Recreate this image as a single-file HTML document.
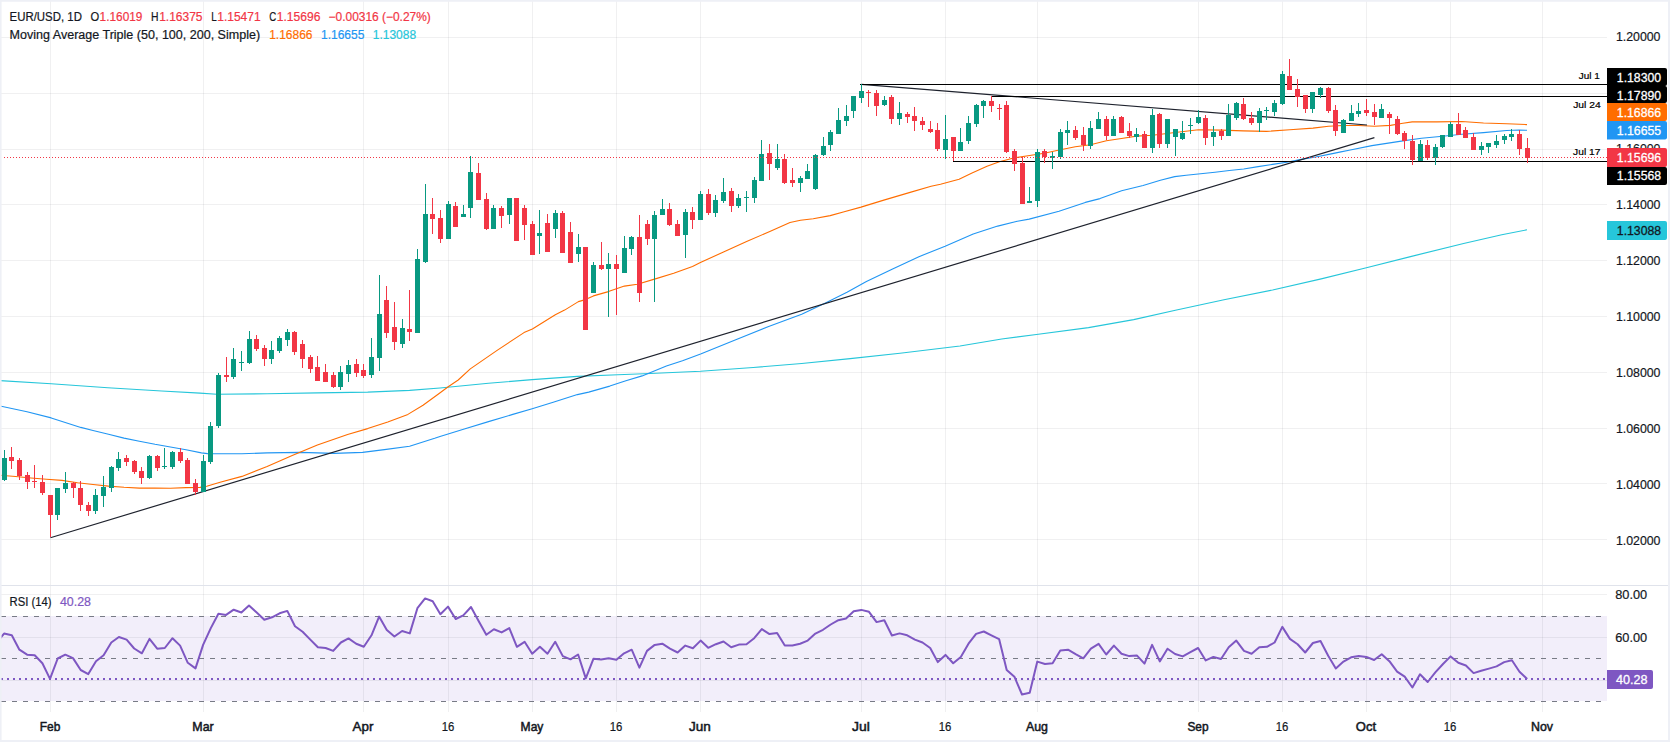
<!DOCTYPE html>
<html lang="en"><head><meta charset="utf-8"><title>EUR/USD 1D chart</title>
<style>html,body{margin:0;padding:0;background:#fff;}body{width:1670px;height:742px;overflow:hidden;}svg{display:block;}</style>
</head><body>
<svg width="1670" height="742" viewBox="0 0 1670 742" font-family="'Liberation Sans', sans-serif">
<rect x="0" y="0" width="1670" height="742" fill="#ffffff"/>
<rect x="0" y="616" width="1607" height="85" fill="#f2eefa"/>
<g stroke="#2a2e39" stroke-opacity="0.07" stroke-width="1" shape-rendering="crispEdges">
<line x1="50.5" y1="0" x2="50.5" y2="712"/>
<line x1="203.5" y1="0" x2="203.5" y2="712"/>
<line x1="363.5" y1="0" x2="363.5" y2="712"/>
<line x1="448.5" y1="0" x2="448.5" y2="712"/>
<line x1="532.5" y1="0" x2="532.5" y2="712"/>
<line x1="616.5" y1="0" x2="616.5" y2="712"/>
<line x1="700.5" y1="0" x2="700.5" y2="712"/>
<line x1="861.5" y1="0" x2="861.5" y2="712"/>
<line x1="945.5" y1="0" x2="945.5" y2="712"/>
<line x1="1037.5" y1="0" x2="1037.5" y2="712"/>
<line x1="1198.5" y1="0" x2="1198.5" y2="712"/>
<line x1="1282.5" y1="0" x2="1282.5" y2="712"/>
<line x1="1366.5" y1="0" x2="1366.5" y2="712"/>
<line x1="1450.5" y1="0" x2="1450.5" y2="712"/>
<line x1="1542.5" y1="0" x2="1542.5" y2="712"/>
<line x1="0" y1="37.5" x2="1607" y2="37.5"/>
<line x1="0" y1="93.5" x2="1607" y2="93.5"/>
<line x1="0" y1="149.5" x2="1607" y2="149.5"/>
<line x1="0" y1="204.5" x2="1607" y2="204.5"/>
<line x1="0" y1="260.5" x2="1607" y2="260.5"/>
<line x1="0" y1="316.5" x2="1607" y2="316.5"/>
<line x1="0" y1="372.5" x2="1607" y2="372.5"/>
<line x1="0" y1="428.5" x2="1607" y2="428.5"/>
<line x1="0" y1="483.5" x2="1607" y2="483.5"/>
<line x1="0" y1="539.5" x2="1607" y2="539.5"/>
<line x1="0" y1="594.5" x2="1607" y2="594.5"/>
<line x1="0" y1="637.5" x2="1607" y2="637.5"/>
<line x1="0" y1="680.5" x2="1607" y2="680.5"/>
</g>
<line x1="0" y1="585.5" x2="1670" y2="585.5" stroke="#e0e3eb" stroke-width="1" shape-rendering="crispEdges"/>
<g stroke="#787b86" stroke-width="1" stroke-dasharray="5 6" shape-rendering="crispEdges">
<line x1="1" y1="616.5" x2="1607" y2="616.5"/>
<line x1="1" y1="658.5" x2="1607" y2="658.5"/>
<line x1="1" y1="701.5" x2="1607" y2="701.5"/>
</g>
<polyline points="0.0,380.6 51.2,383.7 107.8,387.8 161.7,391.0 200.0,393.1 216.8,394.3 267.1,393.7 317.4,392.9 367.7,392.1 409.6,390.4 440.0,388.0 488.5,383.3 532.2,379.6 577.4,376.4 617.9,374.8 650.2,373.5 700.6,371.2 753.2,367.5 801.7,363.5 850.2,358.6 900.0,353.3 960.0,346.0 1001.7,339.0 1036.4,334.5 1088.5,327.6 1133.7,319.6 1175.4,310.2 1224.0,299.8 1272.6,290.0 1321.2,278.9 1366.4,267.8 1411.5,256.4 1463.6,243.5 1501.8,234.8 1527.0,229.8" fill="none" stroke="#26c6da" stroke-width="1.1" stroke-linejoin="round" />
<polyline points="0.0,406.0 27.0,411.7 51.2,417.9 80.8,427.4 93.0,430.5 108.5,434.3 124.0,438.1 139.4,441.2 155.0,444.3 170.4,447.0 186.0,449.8 201.4,452.9 207.6,453.6 216.8,453.8 241.9,453.8 267.1,452.9 300.6,452.4 334.1,453.4 362.6,452.4 384.4,449.6 409.6,446.2 434.7,438.3 440.0,436.5 464.3,428.9 488.5,421.6 512.8,414.4 532.2,408.7 553.2,402.2 577.4,394.6 588.7,392.1 609.8,386.1 625.9,380.7 642.1,375.9 666.4,366.0 682.5,360.7 700.6,353.9 737.0,339.2 769.3,326.3 801.7,314.2 825.9,302.8 847.0,292.3 866.4,281.5 892.6,269.0 918.9,256.7 945.1,246.2 973.2,234.0 997.7,226.1 1015.2,221.7 1029.2,219.1 1059.0,211.2 1085.3,202.4 1100.0,198.6 1121.6,190.8 1143.1,185.5 1160.4,180.2 1174.7,176.6 1186.2,175.2 1200.6,173.8 1215.0,172.3 1229.3,170.5 1243.7,169.0 1258.1,166.6 1272.5,164.4 1286.8,162.3 1301.2,159.4 1315.6,157.0 1330.0,154.1 1340.9,151.9 1350.3,150.0 1371.9,145.6 1402.9,140.9 1421.5,138.2 1442.6,136.2 1461.8,134.2 1483.5,132.6 1506.7,130.5 1519.1,130.0 1527.0,130.3" fill="none" stroke="#2196f3" stroke-width="1.1" stroke-linejoin="round" />
<polyline points="0.0,475.3 15.5,476.5 31.0,478.0 46.5,479.3 62.0,480.4 77.5,482.7 93.0,484.5 108.5,486.1 124.0,487.3 139.4,488.1 155.0,488.1 170.4,488.3 186.0,487.6 200.0,487.4 206.7,486.3 220.1,482.3 241.9,476.4 267.1,466.4 292.2,455.5 317.4,445.1 347.6,434.5 367.7,428.6 387.8,421.9 407.9,414.4 423.0,405.2 438.1,394.3 448.2,386.7 458.2,380.0 470.3,368.9 497.1,350.4 524.0,332.6 532.4,329.0 555.3,314.8 564.6,310.1 578.4,301.6 585.5,299.6 593.4,295.9 608.4,291.6 624.4,286.1 637.4,284.3 654.5,279.1 673.7,273.2 692.5,266.4 700.4,262.5 723.5,252.0 746.6,241.6 769.8,231.5 790.0,222.5 800.5,220.2 813.2,218.7 830.2,215.6 844.2,211.7 861.0,207.1 883.8,200.1 910.1,192.4 931.1,186.3 940.5,184.2 959.1,179.2 971.5,173.3 987.0,166.3 999.4,161.7 1014.6,157.8 1029.6,155.5 1044.3,153.2 1060.4,149.8 1075.3,146.7 1090.5,144.7 1106.4,140.8 1121.5,138.5 1136.5,136.1 1152.5,135.2 1165.0,133.8 1175.1,132.5 1198.4,129.8 1221.6,130.1 1243.3,130.9 1266.6,131.4 1289.8,129.8 1313.0,128.1 1328.5,126.3 1343.4,125.5 1358.4,125.5 1374.4,126.2 1390.5,125.4 1402.9,123.3 1412.2,121.9 1437.0,121.9 1461.8,121.5 1483.5,123.0 1506.7,123.8 1527.0,124.6" fill="none" stroke="#ff6d00" stroke-width="1.1" stroke-linejoin="round" />
<line x1="50.4" y1="537.7" x2="1374.4" y2="137.6" stroke="#1e222d" stroke-width="1.2"/>
<line x1="861.4" y1="84.3" x2="1367" y2="125.0" stroke="#1e222d" stroke-width="1.2"/>
<g stroke="#000" stroke-width="1" shape-rendering="crispEdges">
<line x1="860" y1="84.5" x2="1607" y2="84.5"/>
<line x1="991" y1="96.5" x2="1607" y2="96.5"/>
<line x1="952.5" y1="161.5" x2="1607" y2="161.5"/>
</g>
<g fill="#089981" shape-rendering="crispEdges"><rect x="4" y="450" width="1" height="31"/><rect x="2" y="458" width="5" height="22"/><rect x="57" y="488" width="1" height="32"/><rect x="55" y="488" width="5" height="27"/><rect x="65" y="472" width="1" height="21"/><rect x="63" y="483" width="5" height="6"/><rect x="95" y="489" width="1" height="25"/><rect x="93" y="495" width="5" height="16"/><rect x="103" y="476" width="1" height="31"/><rect x="101" y="487" width="5" height="9"/><rect x="111" y="466" width="1" height="26"/><rect x="109" y="467" width="5" height="21"/><rect x="118" y="452" width="1" height="19"/><rect x="116" y="459" width="5" height="9"/><rect x="149" y="455" width="1" height="24"/><rect x="147" y="456" width="5" height="22"/><rect x="164" y="448" width="1" height="21"/><rect x="162" y="466" width="5" height="1"/><rect x="172" y="451" width="1" height="18"/><rect x="170" y="452" width="5" height="15"/><rect x="203" y="455" width="1" height="37"/><rect x="201" y="461" width="5" height="31"/><rect x="210" y="422" width="1" height="42"/><rect x="208" y="426" width="5" height="36"/><rect x="218" y="373" width="1" height="55"/><rect x="216" y="375" width="5" height="51"/><rect x="233" y="348" width="1" height="31"/><rect x="231" y="359" width="5" height="18"/><rect x="241" y="351" width="1" height="20"/><rect x="239" y="362" width="5" height="1"/><rect x="249" y="331" width="1" height="33"/><rect x="247" y="339" width="5" height="24"/><rect x="271" y="341" width="1" height="23"/><rect x="269" y="350" width="5" height="9"/><rect x="279" y="336" width="1" height="17"/><rect x="277" y="338" width="5" height="13"/><rect x="287" y="329" width="1" height="17"/><rect x="285" y="332" width="5" height="8"/><rect x="340" y="366" width="1" height="24"/><rect x="338" y="372" width="5" height="15"/><rect x="348" y="360" width="1" height="22"/><rect x="346" y="365" width="5" height="9"/><rect x="371" y="338" width="1" height="40"/><rect x="369" y="357" width="5" height="18"/><rect x="379" y="275" width="1" height="96"/><rect x="377" y="314" width="5" height="44"/><rect x="402" y="319" width="1" height="29"/><rect x="400" y="328" width="5" height="16"/><rect x="417" y="249" width="1" height="84"/><rect x="415" y="259" width="5" height="74"/><rect x="425" y="184" width="1" height="79"/><rect x="423" y="214" width="5" height="48"/><rect x="448" y="201" width="1" height="38"/><rect x="446" y="204" width="5" height="35"/><rect x="463" y="205" width="1" height="12"/><rect x="461" y="214" width="5" height="3"/><rect x="470" y="156" width="1" height="62"/><rect x="468" y="172" width="5" height="36"/><rect x="493" y="205" width="1" height="24"/><rect x="491" y="208" width="5" height="21"/><rect x="509" y="198" width="1" height="26"/><rect x="507" y="198" width="5" height="17"/><rect x="539" y="210" width="1" height="44"/><rect x="537" y="233" width="5" height="3"/><rect x="555" y="210" width="1" height="28"/><rect x="553" y="213" width="5" height="16"/><rect x="578" y="234" width="1" height="28"/><rect x="576" y="247" width="5" height="7"/><rect x="593" y="262" width="1" height="31"/><rect x="591" y="265" width="5" height="28"/><rect x="608" y="253" width="1" height="64"/><rect x="606" y="264" width="5" height="5"/><rect x="624" y="236" width="1" height="37"/><rect x="622" y="248" width="5" height="25"/><rect x="631" y="236" width="1" height="19"/><rect x="629" y="237" width="5" height="12"/><rect x="654" y="211" width="1" height="91"/><rect x="652" y="215" width="5" height="24"/><rect x="662" y="199" width="1" height="16"/><rect x="660" y="209" width="5" height="6"/><rect x="685" y="209" width="1" height="49"/><rect x="683" y="212" width="5" height="23"/><rect x="700" y="191" width="1" height="29"/><rect x="698" y="194" width="5" height="26"/><rect x="715" y="195" width="1" height="22"/><rect x="713" y="200" width="5" height="13"/><rect x="723" y="178" width="1" height="25"/><rect x="721" y="192" width="5" height="9"/><rect x="738" y="194" width="1" height="14"/><rect x="736" y="198" width="5" height="8"/><rect x="746" y="191" width="1" height="21"/><rect x="744" y="197" width="5" height="1"/><rect x="754" y="177" width="1" height="26"/><rect x="752" y="180" width="5" height="18"/><rect x="761" y="140" width="1" height="41"/><rect x="759" y="154" width="5" height="27"/><rect x="777" y="144" width="1" height="26"/><rect x="775" y="159" width="5" height="9"/><rect x="800" y="176" width="1" height="16"/><rect x="798" y="178" width="5" height="5"/><rect x="807" y="164" width="1" height="15"/><rect x="805" y="171" width="5" height="8"/><rect x="815" y="154" width="1" height="36"/><rect x="813" y="155" width="5" height="34"/><rect x="823" y="137" width="1" height="19"/><rect x="821" y="146" width="5" height="9"/><rect x="830" y="130" width="1" height="21"/><rect x="828" y="132" width="5" height="13"/><rect x="838" y="108" width="1" height="26"/><rect x="836" y="120" width="5" height="14"/><rect x="846" y="105" width="1" height="21"/><rect x="844" y="116" width="5" height="5"/><rect x="853" y="96" width="1" height="22"/><rect x="851" y="96" width="5" height="15"/><rect x="861" y="84" width="1" height="19"/><rect x="859" y="91" width="5" height="7"/><rect x="884" y="96" width="1" height="10"/><rect x="882" y="100" width="5" height="5"/><rect x="899" y="102" width="1" height="23"/><rect x="897" y="113" width="5" height="6"/><rect x="945" y="115" width="1" height="44"/><rect x="943" y="139" width="5" height="11"/><rect x="960" y="128" width="1" height="23"/><rect x="958" y="142" width="5" height="9"/><rect x="968" y="116" width="1" height="28"/><rect x="966" y="123" width="5" height="18"/><rect x="976" y="104" width="1" height="23"/><rect x="974" y="105" width="5" height="19"/><rect x="983" y="100" width="1" height="18"/><rect x="981" y="101" width="5" height="5"/><rect x="1029" y="187" width="1" height="16"/><rect x="1027" y="201" width="5" height="2"/><rect x="1037" y="149" width="1" height="58"/><rect x="1035" y="152" width="5" height="49"/><rect x="1052" y="152" width="1" height="17"/><rect x="1050" y="156" width="5" height="2"/><rect x="1060" y="129" width="1" height="30"/><rect x="1058" y="132" width="5" height="25"/><rect x="1067" y="121" width="1" height="24"/><rect x="1065" y="130" width="5" height="3"/><rect x="1090" y="121" width="1" height="28"/><rect x="1088" y="128" width="5" height="18"/><rect x="1098" y="112" width="1" height="17"/><rect x="1096" y="119" width="5" height="10"/><rect x="1113" y="116" width="1" height="20"/><rect x="1111" y="119" width="5" height="17"/><rect x="1136" y="128" width="1" height="14"/><rect x="1134" y="134" width="5" height="3"/><rect x="1152" y="109" width="1" height="44"/><rect x="1150" y="115" width="5" height="33"/><rect x="1167" y="119" width="1" height="29"/><rect x="1165" y="119" width="5" height="25"/><rect x="1175" y="129" width="1" height="27"/><rect x="1173" y="129" width="5" height="8"/><rect x="1182" y="121" width="1" height="19"/><rect x="1180" y="133" width="5" height="6"/><rect x="1190" y="118" width="1" height="16"/><rect x="1188" y="125" width="5" height="1"/><rect x="1198" y="110" width="1" height="14"/><rect x="1196" y="117" width="5" height="6"/><rect x="1213" y="126" width="1" height="20"/><rect x="1211" y="132" width="5" height="5"/><rect x="1228" y="104" width="1" height="32"/><rect x="1226" y="115" width="5" height="21"/><rect x="1236" y="102" width="1" height="18"/><rect x="1234" y="103" width="5" height="15"/><rect x="1259" y="108" width="1" height="24"/><rect x="1257" y="111" width="5" height="12"/><rect x="1266" y="107" width="1" height="13"/><rect x="1264" y="110" width="5" height="1"/><rect x="1274" y="100" width="1" height="16"/><rect x="1272" y="103" width="5" height="9"/><rect x="1282" y="71" width="1" height="34"/><rect x="1280" y="74" width="5" height="30"/><rect x="1312" y="92" width="1" height="21"/><rect x="1310" y="92" width="5" height="17"/><rect x="1320" y="87" width="1" height="11"/><rect x="1318" y="88" width="5" height="7"/><rect x="1343" y="119" width="1" height="14"/><rect x="1341" y="120" width="5" height="13"/><rect x="1351" y="105" width="1" height="16"/><rect x="1349" y="113" width="5" height="8"/><rect x="1358" y="103" width="1" height="14"/><rect x="1356" y="111" width="5" height="3"/><rect x="1381" y="104" width="1" height="14"/><rect x="1379" y="109" width="5" height="9"/><rect x="1420" y="140" width="1" height="21"/><rect x="1418" y="144" width="5" height="17"/><rect x="1435" y="144" width="1" height="21"/><rect x="1433" y="147" width="5" height="11"/><rect x="1442" y="135" width="1" height="13"/><rect x="1440" y="135" width="5" height="12"/><rect x="1450" y="122" width="1" height="15"/><rect x="1448" y="124" width="5" height="13"/><rect x="1481" y="142" width="1" height="13"/><rect x="1479" y="146" width="5" height="4"/><rect x="1488" y="143" width="1" height="10"/><rect x="1486" y="143" width="5" height="4"/><rect x="1496" y="135" width="1" height="13"/><rect x="1494" y="141" width="5" height="4"/><rect x="1504" y="134" width="1" height="10"/><rect x="1502" y="136" width="5" height="4"/><rect x="1511" y="129" width="1" height="12"/><rect x="1509" y="134" width="5" height="3"/></g>
<g fill="#f23645" shape-rendering="crispEdges"><rect x="11" y="447" width="1" height="22"/><rect x="9" y="457" width="5" height="4"/><rect x="19" y="458" width="1" height="22"/><rect x="17" y="460" width="5" height="16"/><rect x="27" y="472" width="1" height="17"/><rect x="25" y="475" width="5" height="7"/><rect x="34" y="465" width="1" height="23"/><rect x="32" y="481" width="5" height="1"/><rect x="42" y="475" width="1" height="20"/><rect x="40" y="482" width="5" height="11"/><rect x="50" y="495" width="1" height="42"/><rect x="48" y="495" width="5" height="20"/><rect x="73" y="482" width="1" height="16"/><rect x="71" y="483" width="5" height="5"/><rect x="80" y="481" width="1" height="30"/><rect x="78" y="488" width="5" height="17"/><rect x="88" y="502" width="1" height="14"/><rect x="86" y="505" width="5" height="6"/><rect x="126" y="455" width="1" height="11"/><rect x="124" y="458" width="5" height="4"/><rect x="134" y="460" width="1" height="14"/><rect x="132" y="461" width="5" height="11"/><rect x="141" y="467" width="1" height="17"/><rect x="139" y="471" width="5" height="7"/><rect x="157" y="455" width="1" height="16"/><rect x="155" y="456" width="5" height="12"/><rect x="180" y="448" width="1" height="15"/><rect x="178" y="452" width="5" height="9"/><rect x="187" y="458" width="1" height="26"/><rect x="185" y="460" width="5" height="24"/><rect x="195" y="479" width="1" height="16"/><rect x="193" y="483" width="5" height="9"/><rect x="226" y="357" width="1" height="25"/><rect x="224" y="375" width="5" height="2"/><rect x="256" y="335" width="1" height="16"/><rect x="254" y="339" width="5" height="10"/><rect x="264" y="345" width="1" height="21"/><rect x="262" y="348" width="5" height="11"/><rect x="294" y="331" width="1" height="24"/><rect x="292" y="332" width="5" height="20"/><rect x="302" y="340" width="1" height="28"/><rect x="300" y="344" width="5" height="15"/><rect x="310" y="355" width="1" height="18"/><rect x="308" y="357" width="5" height="12"/><rect x="317" y="356" width="1" height="25"/><rect x="315" y="367" width="5" height="14"/><rect x="325" y="364" width="1" height="18"/><rect x="323" y="372" width="5" height="10"/><rect x="333" y="372" width="1" height="16"/><rect x="331" y="375" width="5" height="12"/><rect x="356" y="359" width="1" height="18"/><rect x="354" y="364" width="5" height="9"/><rect x="363" y="364" width="1" height="14"/><rect x="361" y="370" width="5" height="6"/><rect x="386" y="286" width="1" height="52"/><rect x="384" y="300" width="5" height="33"/><rect x="394" y="302" width="1" height="48"/><rect x="392" y="327" width="5" height="15"/><rect x="409" y="290" width="1" height="51"/><rect x="407" y="329" width="5" height="3"/><rect x="432" y="198" width="1" height="36"/><rect x="430" y="214" width="5" height="5"/><rect x="440" y="210" width="1" height="33"/><rect x="438" y="218" width="5" height="21"/><rect x="455" y="202" width="1" height="25"/><rect x="453" y="206" width="5" height="21"/><rect x="478" y="163" width="1" height="37"/><rect x="476" y="173" width="5" height="27"/><rect x="486" y="193" width="1" height="37"/><rect x="484" y="199" width="5" height="30"/><rect x="501" y="206" width="1" height="22"/><rect x="499" y="208" width="5" height="8"/><rect x="516" y="198" width="1" height="43"/><rect x="514" y="198" width="5" height="43"/><rect x="524" y="205" width="1" height="35"/><rect x="522" y="208" width="5" height="17"/><rect x="532" y="221" width="1" height="34"/><rect x="530" y="224" width="5" height="31"/><rect x="547" y="214" width="1" height="38"/><rect x="545" y="223" width="5" height="29"/><rect x="562" y="211" width="1" height="42"/><rect x="560" y="213" width="5" height="40"/><rect x="570" y="222" width="1" height="41"/><rect x="568" y="232" width="5" height="31"/><rect x="585" y="247" width="1" height="83"/><rect x="583" y="247" width="5" height="83"/><rect x="601" y="242" width="1" height="28"/><rect x="599" y="265" width="5" height="4"/><rect x="616" y="255" width="1" height="60"/><rect x="614" y="264" width="5" height="5"/><rect x="639" y="215" width="1" height="87"/><rect x="637" y="237" width="5" height="56"/><rect x="647" y="220" width="1" height="25"/><rect x="645" y="224" width="5" height="15"/><rect x="669" y="203" width="1" height="23"/><rect x="667" y="209" width="5" height="16"/><rect x="677" y="220" width="1" height="16"/><rect x="675" y="224" width="5" height="12"/><rect x="692" y="207" width="1" height="22"/><rect x="690" y="212" width="5" height="8"/><rect x="708" y="189" width="1" height="26"/><rect x="706" y="194" width="5" height="19"/><rect x="731" y="188" width="1" height="24"/><rect x="729" y="191" width="5" height="15"/><rect x="769" y="144" width="1" height="36"/><rect x="767" y="153" width="5" height="11"/><rect x="784" y="154" width="1" height="30"/><rect x="782" y="159" width="5" height="24"/><rect x="792" y="168" width="1" height="19"/><rect x="790" y="180" width="5" height="3"/><rect x="868" y="90" width="1" height="17"/><rect x="866" y="92" width="5" height="1"/><rect x="876" y="90" width="1" height="26"/><rect x="874" y="93" width="5" height="13"/><rect x="891" y="95" width="1" height="29"/><rect x="889" y="97" width="5" height="22"/><rect x="907" y="112" width="1" height="11"/><rect x="905" y="114" width="5" height="3"/><rect x="914" y="107" width="1" height="24"/><rect x="912" y="116" width="5" height="5"/><rect x="922" y="117" width="1" height="13"/><rect x="920" y="121" width="5" height="4"/><rect x="930" y="121" width="1" height="12"/><rect x="928" y="129" width="5" height="3"/><rect x="937" y="123" width="1" height="28"/><rect x="935" y="130" width="5" height="19"/><rect x="953" y="137" width="1" height="24"/><rect x="951" y="137" width="5" height="14"/><rect x="991" y="96" width="1" height="16"/><rect x="989" y="101" width="5" height="5"/><rect x="999" y="104" width="1" height="16"/><rect x="997" y="108" width="5" height="1"/><rect x="1006" y="101" width="1" height="52"/><rect x="1004" y="105" width="5" height="47"/><rect x="1014" y="149" width="1" height="22"/><rect x="1012" y="151" width="5" height="13"/><rect x="1022" y="157" width="1" height="47"/><rect x="1020" y="163" width="5" height="41"/><rect x="1044" y="149" width="1" height="14"/><rect x="1042" y="151" width="5" height="6"/><rect x="1075" y="126" width="1" height="14"/><rect x="1073" y="130" width="5" height="8"/><rect x="1083" y="127" width="1" height="24"/><rect x="1081" y="135" width="5" height="10"/><rect x="1106" y="116" width="1" height="24"/><rect x="1104" y="119" width="5" height="17"/><rect x="1121" y="116" width="1" height="17"/><rect x="1119" y="117" width="5" height="16"/><rect x="1129" y="123" width="1" height="15"/><rect x="1127" y="131" width="5" height="5"/><rect x="1144" y="131" width="1" height="17"/><rect x="1142" y="134" width="5" height="14"/><rect x="1159" y="113" width="1" height="35"/><rect x="1157" y="114" width="5" height="30"/><rect x="1205" y="115" width="1" height="30"/><rect x="1203" y="118" width="5" height="20"/><rect x="1221" y="129" width="1" height="11"/><rect x="1219" y="131" width="5" height="5"/><rect x="1243" y="98" width="1" height="22"/><rect x="1241" y="104" width="5" height="15"/><rect x="1251" y="112" width="1" height="13"/><rect x="1249" y="118" width="5" height="5"/><rect x="1289" y="59" width="1" height="31"/><rect x="1287" y="76" width="5" height="14"/><rect x="1297" y="79" width="1" height="28"/><rect x="1295" y="89" width="5" height="8"/><rect x="1305" y="95" width="1" height="18"/><rect x="1303" y="95" width="5" height="14"/><rect x="1328" y="87" width="1" height="26"/><rect x="1326" y="88" width="5" height="23"/><rect x="1335" y="105" width="1" height="31"/><rect x="1333" y="110" width="5" height="21"/><rect x="1366" y="99" width="1" height="17"/><rect x="1364" y="110" width="5" height="3"/><rect x="1374" y="104" width="1" height="21"/><rect x="1372" y="112" width="5" height="5"/><rect x="1389" y="112" width="1" height="22"/><rect x="1387" y="114" width="5" height="4"/><rect x="1397" y="116" width="1" height="19"/><rect x="1395" y="119" width="5" height="15"/><rect x="1404" y="131" width="1" height="18"/><rect x="1402" y="133" width="5" height="8"/><rect x="1412" y="135" width="1" height="30"/><rect x="1410" y="141" width="5" height="19"/><rect x="1427" y="140" width="1" height="20"/><rect x="1425" y="145" width="5" height="13"/><rect x="1458" y="113" width="1" height="22"/><rect x="1456" y="124" width="5" height="11"/><rect x="1465" y="127" width="1" height="11"/><rect x="1463" y="130" width="5" height="8"/><rect x="1473" y="133" width="1" height="17"/><rect x="1471" y="137" width="5" height="13"/><rect x="1519" y="130" width="1" height="25"/><rect x="1517" y="134" width="5" height="15"/><rect x="1527" y="138" width="1" height="25"/><rect x="1525" y="148" width="5" height="10"/></g>
<line x1="4" y1="157.5" x2="1607" y2="157.5" stroke="#f23645" stroke-width="1" stroke-dasharray="1 2" shape-rendering="crispEdges"/>
<clipPath id="cp"><rect x="0" y="586" width="1607" height="126"/></clipPath>
<polyline points="-3.5,642.5 4.1,633.6 11.8,635.3 19.4,649.7 27.1,654.7 34.7,655.2 42.4,663.3 50.0,678.9 57.7,658.5 65.3,654.7 73.0,658.1 80.7,670.0 88.3,674.1 96.0,661.2 103.6,655.2 111.3,642.5 118.9,637.0 126.6,639.6 134.2,648.5 141.9,653.3 149.5,638.9 157.2,648.7 164.8,648.0 172.5,638.2 180.1,645.6 187.8,662.8 195.5,668.4 203.1,644.9 210.8,628.1 218.4,613.7 226.1,614.9 233.7,609.7 241.4,612.5 249.0,605.6 256.7,612.5 264.3,619.7 272.0,617.3 279.6,613.3 287.3,610.9 295.0,626.2 302.6,631.7 310.3,639.6 317.9,647.3 325.6,648.0 333.2,650.9 340.9,642.5 348.5,638.4 356.2,643.7 363.8,646.8 371.5,635.3 379.1,616.6 386.8,630.0 394.4,636.5 402.1,631.0 409.8,633.4 417.4,608.2 425.1,598.4 432.7,601.3 440.4,614.2 448.0,606.6 455.7,619.0 463.3,615.4 471.0,607.0 478.6,620.9 486.3,634.8 493.9,629.3 501.6,632.4 509.3,628.1 516.9,646.8 524.6,641.8 532.2,653.7 539.9,646.8 547.5,653.7 555.2,641.8 562.8,656.1 570.5,659.3 578.1,654.5 585.8,678.4 593.4,658.8 601.1,659.5 608.7,658.3 616.4,659.7 624.1,653.3 631.7,649.7 639.4,667.6 647.0,650.9 654.7,644.9 662.3,643.7 670.0,648.7 677.6,652.5 685.3,645.6 692.9,648.2 700.6,640.6 708.2,647.8 715.9,644.2 723.5,641.5 731.2,647.3 738.9,644.6 746.5,644.2 754.2,638.2 761.8,629.1 769.5,634.1 777.1,632.9 784.8,645.4 792.4,645.4 800.1,643.7 807.7,640.6 815.4,633.6 823.0,629.8 830.7,624.5 838.4,620.2 846.0,618.5 853.7,611.3 861.3,609.9 869.0,611.8 876.6,622.1 884.3,620.2 891.9,635.5 899.6,633.4 907.2,635.3 914.9,639.6 922.5,642.5 930.2,648.0 937.8,662.1 945.5,654.9 953.2,663.3 960.8,656.9 968.5,643.7 976.1,633.9 983.8,631.5 991.4,635.3 999.1,639.1 1006.7,670.0 1014.4,676.7 1022.0,694.5 1029.7,692.8 1037.3,661.6 1045.0,664.0 1052.6,663.3 1060.3,650.4 1068.0,649.7 1075.6,654.2 1083.3,658.3 1090.9,648.7 1098.6,643.9 1106.2,654.5 1113.9,645.6 1121.5,653.7 1129.2,656.1 1136.8,655.4 1144.5,663.6 1152.1,644.9 1159.8,661.4 1167.5,648.7 1175.1,654.0 1182.8,656.4 1190.4,652.1 1198.1,648.0 1205.7,660.4 1213.4,656.9 1221.0,659.0 1228.7,647.3 1236.3,640.6 1244.0,650.9 1251.6,653.7 1259.3,647.3 1266.9,646.8 1274.6,642.5 1282.3,626.9 1289.9,638.9 1297.6,644.2 1305.2,652.5 1312.9,643.0 1320.5,641.0 1328.2,655.7 1335.8,668.4 1343.5,661.6 1351.1,657.3 1358.8,655.9 1366.4,656.9 1374.1,660.0 1381.7,654.2 1389.4,661.2 1397.1,671.7 1404.7,676.7 1412.4,687.5 1420.0,674.3 1427.7,682.0 1435.3,672.4 1443.0,664.0 1450.6,656.4 1458.3,662.8 1465.9,665.5 1473.6,673.1 1481.2,670.7 1488.9,668.6 1496.6,666.4 1504.2,662.1 1511.9,660.2 1519.5,671.7 1527.2,678.9" fill="none" stroke="#7e57c2" stroke-width="2" stroke-linejoin="round" clip-path="url(#cp)"/>
<line x1="1" y1="679" x2="1607" y2="679" stroke="#7e57c2" stroke-width="2" stroke-dasharray="2 4" shape-rendering="crispEdges"/>
<text x="9.6" y="20.8" font-size="12" fill="#131722" textLength="72.3" lengthAdjust="spacingAndGlyphs" stroke="#131722" stroke-width="0.2">EUR/USD, 1D</text>
<text x="90.5" y="20.8" font-size="12" fill="#131722" textLength="8.7" lengthAdjust="spacingAndGlyphs" stroke="#131722" stroke-width="0.2">O</text>
<text x="99.6" y="20.8" font-size="12" fill="#f23645" textLength="42.8" lengthAdjust="spacingAndGlyphs" stroke="#f23645" stroke-width="0.2">1.16019</text>
<text x="150.9" y="20.8" font-size="12" fill="#131722" textLength="7.5" lengthAdjust="spacingAndGlyphs" stroke="#131722" stroke-width="0.2">H</text>
<text x="159.2" y="20.8" font-size="12" fill="#f23645" textLength="43.3" lengthAdjust="spacingAndGlyphs" stroke="#f23645" stroke-width="0.2">1.16375</text>
<text x="211.3" y="20.8" font-size="12" fill="#131722" textLength="5.5" lengthAdjust="spacingAndGlyphs" stroke="#131722" stroke-width="0.2">L</text>
<text x="217.3" y="20.8" font-size="12" fill="#f23645" textLength="43.3" lengthAdjust="spacingAndGlyphs" stroke="#f23645" stroke-width="0.2">1.15471</text>
<text x="269.3" y="20.8" font-size="12" fill="#131722" textLength="7" lengthAdjust="spacingAndGlyphs" stroke="#131722" stroke-width="0.2">C</text>
<text x="276.8" y="20.8" font-size="12" fill="#f23645" textLength="43.6" lengthAdjust="spacingAndGlyphs" stroke="#f23645" stroke-width="0.2">1.15696</text>
<text x="328.6" y="20.8" font-size="12" fill="#f23645" textLength="102.2" lengthAdjust="spacingAndGlyphs" stroke="#f23645" stroke-width="0.2">−0.00316 (−0.27%)</text>
<text x="9.6" y="38.8" font-size="12" fill="#131722" textLength="250.5" lengthAdjust="spacingAndGlyphs" stroke="#131722" stroke-width="0.2">Moving Average Triple (50, 100, 200, Simple)</text>
<text x="269.2" y="38.8" font-size="12" fill="#ff6d00" textLength="43.3" lengthAdjust="spacingAndGlyphs" stroke="#ff6d00" stroke-width="0.2">1.16866</text>
<text x="321.0" y="38.8" font-size="12" fill="#2196f3" textLength="43.3" lengthAdjust="spacingAndGlyphs" stroke="#2196f3" stroke-width="0.2">1.16655</text>
<text x="372.8" y="38.8" font-size="12" fill="#26c6da" textLength="43.3" lengthAdjust="spacingAndGlyphs" stroke="#26c6da" stroke-width="0.2">1.13088</text>
<text x="9.6" y="605.9" font-size="12" fill="#131722" textLength="42" lengthAdjust="spacingAndGlyphs" stroke="#131722" stroke-width="0.2">RSI (14)</text>
<text x="59.9" y="605.9" font-size="12" fill="#7e57c2" textLength="31.1" lengthAdjust="spacingAndGlyphs" stroke="#7e57c2" stroke-width="0.2">40.28</text>
<text x="1615.9" y="41.1" font-size="13" fill="#131722" textLength="44.6" lengthAdjust="spacingAndGlyphs" stroke="#131722" stroke-width="0.2">1.20000</text>
<text x="1615.9" y="97.08" font-size="13" fill="#131722" textLength="44.6" lengthAdjust="spacingAndGlyphs" stroke="#131722" stroke-width="0.2">1.18000</text>
<text x="1615.9" y="153.06" font-size="13" fill="#131722" textLength="44.6" lengthAdjust="spacingAndGlyphs" stroke="#131722" stroke-width="0.2">1.16000</text>
<text x="1615.9" y="209.04" font-size="13" fill="#131722" textLength="44.6" lengthAdjust="spacingAndGlyphs" stroke="#131722" stroke-width="0.2">1.14000</text>
<text x="1615.9" y="265.02" font-size="13" fill="#131722" textLength="44.6" lengthAdjust="spacingAndGlyphs" stroke="#131722" stroke-width="0.2">1.12000</text>
<text x="1615.9" y="321.0" font-size="13" fill="#131722" textLength="44.6" lengthAdjust="spacingAndGlyphs" stroke="#131722" stroke-width="0.2">1.10000</text>
<text x="1615.9" y="376.98" font-size="13" fill="#131722" textLength="44.6" lengthAdjust="spacingAndGlyphs" stroke="#131722" stroke-width="0.2">1.08000</text>
<text x="1615.9" y="432.96" font-size="13" fill="#131722" textLength="44.6" lengthAdjust="spacingAndGlyphs" stroke="#131722" stroke-width="0.2">1.06000</text>
<text x="1615.9" y="488.94" font-size="13" fill="#131722" textLength="44.6" lengthAdjust="spacingAndGlyphs" stroke="#131722" stroke-width="0.2">1.04000</text>
<text x="1615.9" y="544.92" font-size="13" fill="#131722" textLength="44.6" lengthAdjust="spacingAndGlyphs" stroke="#131722" stroke-width="0.2">1.02000</text>
<text x="1615.2" y="598.6" font-size="13" fill="#131722" textLength="32" lengthAdjust="spacingAndGlyphs" stroke="#131722" stroke-width="0.2">80.00</text>
<text x="1615.2" y="641.6" font-size="13" fill="#131722" textLength="32" lengthAdjust="spacingAndGlyphs" stroke="#131722" stroke-width="0.2">60.00</text>
<path d="M1607 68H1665Q1667 68 1667 70V84Q1667 86 1665 86H1607Z" fill="#000"/>
<text x="1616.8" y="81.95" font-size="13" fill="#fff" textLength="44.4" lengthAdjust="spacingAndGlyphs" stroke="#fff" stroke-width="0.3">1.18300</text>
<path d="M1607 86H1665Q1667 86 1667 88V101Q1667 103 1665 103H1607Z" fill="#000"/>
<text x="1616.8" y="99.95" font-size="13" fill="#fff" textLength="44.4" lengthAdjust="spacingAndGlyphs" stroke="#fff" stroke-width="0.3">1.17890</text>
<path d="M1607 103H1665Q1667 103 1667 105V119Q1667 121 1665 121H1607Z" fill="#ff6d00"/>
<text x="1616.8" y="116.75" font-size="13" fill="#fff" textLength="44.4" lengthAdjust="spacingAndGlyphs" stroke="#fff" stroke-width="0.3">1.16866</text>
<path d="M1607 121H1665Q1667 121 1667 123V137.5Q1667 139.5 1665 139.5H1607Z" fill="#2196f3"/>
<text x="1616.8" y="135.35" font-size="13" fill="#fff" textLength="44.4" lengthAdjust="spacingAndGlyphs" stroke="#fff" stroke-width="0.3">1.16655</text>
<path d="M1607 148H1665Q1667 148 1667 150V165Q1667 167 1665 167H1607Z" fill="#f23645"/>
<text x="1616.8" y="162.15" font-size="13" fill="#fff" textLength="44.4" lengthAdjust="spacingAndGlyphs" stroke="#fff" stroke-width="0.3">1.15696</text>
<path d="M1607 167H1665Q1667 167 1667 169V183Q1667 185 1665 185H1607Z" fill="#000"/>
<text x="1616.8" y="179.75" font-size="13" fill="#fff" textLength="44.4" lengthAdjust="spacingAndGlyphs" stroke="#fff" stroke-width="0.3">1.15568</text>
<path d="M1607 221H1665Q1667 221 1667 223V238Q1667 240 1665 240H1607Z" fill="#26c6da"/>
<text x="1616.8" y="235.05" font-size="13" fill="#131722" textLength="44.4" lengthAdjust="spacingAndGlyphs" stroke="#131722" stroke-width="0.3">1.13088</text>
<path d="M1607 670H1651Q1653 670 1653 672V687Q1653 689 1651 689H1607Z" fill="#7e57c2"/>
<text x="1616" y="684.15" font-size="13" fill="#fff" textLength="31.6" lengthAdjust="spacingAndGlyphs" stroke="#fff" stroke-width="0.3">40.28</text>
<text x="1599.9" y="79.0" font-size="9.2" fill="#000" text-anchor="end" textLength="21.1" lengthAdjust="spacingAndGlyphs" stroke="#000" stroke-width="0.2">Jul 1</text>
<text x="1600.7" y="107.9" font-size="9.2" fill="#000" text-anchor="end" textLength="27.5" lengthAdjust="spacingAndGlyphs" stroke="#000" stroke-width="0.2">Jul 24</text>
<text x="1600.4" y="154.9" font-size="9.2" fill="#000" text-anchor="end" textLength="27.3" lengthAdjust="spacingAndGlyphs" stroke="#000" stroke-width="0.2">Jul 17</text>
<text x="50" y="730.5" font-size="13" fill="#131722" text-anchor="middle" textLength="20.6" lengthAdjust="spacingAndGlyphs" stroke="#131722" stroke-width="0.5">Feb</text>
<text x="203" y="730.5" font-size="13" fill="#131722" text-anchor="middle" textLength="21.4" lengthAdjust="spacingAndGlyphs" stroke="#131722" stroke-width="0.5">Mar</text>
<text x="363" y="730.5" font-size="13" fill="#131722" text-anchor="middle" textLength="20.8" lengthAdjust="spacingAndGlyphs" stroke="#131722" stroke-width="0.5">Apr</text>
<text x="532" y="730.5" font-size="13" fill="#131722" text-anchor="middle" textLength="22.8" lengthAdjust="spacingAndGlyphs" stroke="#131722" stroke-width="0.5">May</text>
<text x="700" y="730.5" font-size="13" fill="#131722" text-anchor="middle" textLength="21.8" lengthAdjust="spacingAndGlyphs" stroke="#131722" stroke-width="0.5">Jun</text>
<text x="861" y="730.5" font-size="13" fill="#131722" text-anchor="middle" textLength="17.8" lengthAdjust="spacingAndGlyphs" stroke="#131722" stroke-width="0.5">Jul</text>
<text x="1037" y="730.5" font-size="13" fill="#131722" text-anchor="middle" textLength="22" lengthAdjust="spacingAndGlyphs" stroke="#131722" stroke-width="0.5">Aug</text>
<text x="1198" y="730.5" font-size="13" fill="#131722" text-anchor="middle" textLength="21.1" lengthAdjust="spacingAndGlyphs" stroke="#131722" stroke-width="0.5">Sep</text>
<text x="1366" y="730.5" font-size="13" fill="#131722" text-anchor="middle" textLength="20.3" lengthAdjust="spacingAndGlyphs" stroke="#131722" stroke-width="0.5">Oct</text>
<text x="1542" y="730.5" font-size="13" fill="#131722" text-anchor="middle" textLength="22" lengthAdjust="spacingAndGlyphs" stroke="#131722" stroke-width="0.5">Nov</text>
<text x="448" y="730.6" font-size="12.6" fill="#131722" text-anchor="middle" textLength="12.6" lengthAdjust="spacingAndGlyphs" stroke="#131722" stroke-width="0.2">16</text>
<text x="616" y="730.6" font-size="12.6" fill="#131722" text-anchor="middle" textLength="12.6" lengthAdjust="spacingAndGlyphs" stroke="#131722" stroke-width="0.2">16</text>
<text x="945" y="730.6" font-size="12.6" fill="#131722" text-anchor="middle" textLength="12.6" lengthAdjust="spacingAndGlyphs" stroke="#131722" stroke-width="0.2">16</text>
<text x="1282" y="730.6" font-size="12.6" fill="#131722" text-anchor="middle" textLength="12.6" lengthAdjust="spacingAndGlyphs" stroke="#131722" stroke-width="0.2">16</text>
<text x="1450" y="730.6" font-size="12.6" fill="#131722" text-anchor="middle" textLength="12.6" lengthAdjust="spacingAndGlyphs" stroke="#131722" stroke-width="0.2">16</text>
<path d="M0 0H1670V742H0Z M1.6 1.7V740H1668V1.7Z" fill="#eef0f6" fill-rule="evenodd"/>
</svg>
</body></html>
